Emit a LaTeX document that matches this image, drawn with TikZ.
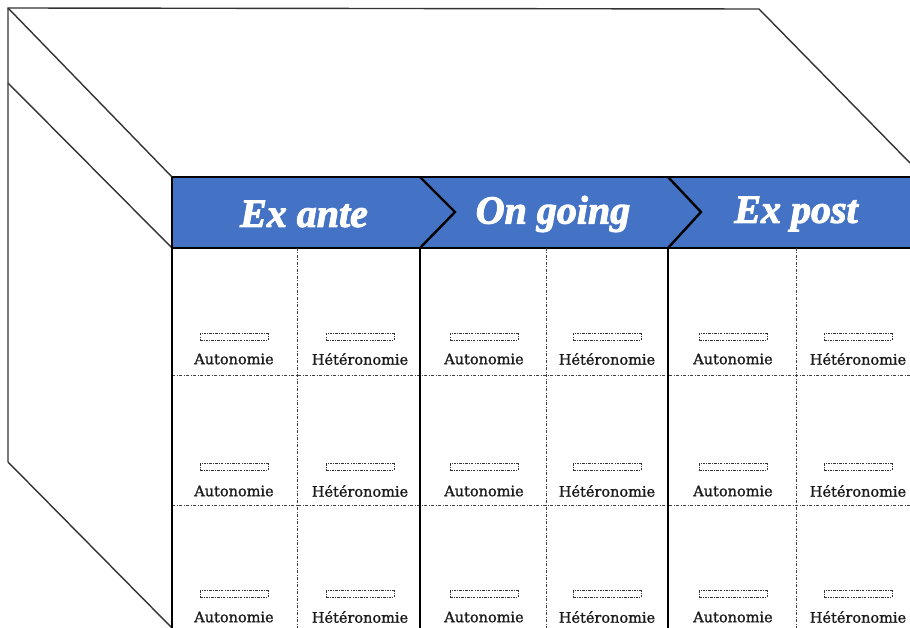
\documentclass[tikz,border=0pt]{standalone}
\usepackage{fontspec}
\newfontfamily\headfont{Liberation Serif}[FakeBold=2.5]
\newfontfamily\labelfont{DejaVu Serif}[FakeBold=1.2]
\definecolor{bandblue}{HTML}{4472C4}
\definecolor{edgegray}{HTML}{333333}
\definecolor{txtgray}{HTML}{1A1A1A}
\begin{document}
\begin{tikzpicture}[x=1pt,y=-1pt,
  edge/.style={draw=edgegray,line width=1.4pt},
  heavy/.style={draw=black,line width=2.4pt},
  grid/.style={draw=black!75,line width=0.8pt,dash pattern=on 3pt off 1.5pt on 1pt off 1.5pt},
  tag/.style={draw=black!80,line width=0.8pt,dash pattern=on 2.5pt off 1.2pt on 0.8pt off 1.2pt,
              minimum width=68pt,minimum height=7pt,inner sep=0pt},
  lbl/.style={font=\labelfont\fontsize{14.5}{16}\selectfont,text=txtgray,inner sep=0pt},
  head/.style={font=\headfont\bfseries\itshape\fontsize{40}{40}\selectfont,text=white,inner sep=0pt}]
\useasboundingbox (0,0) rectangle (910,628);

% box outline: top face and side face
\coordinate (tl) at (8,8);
\coordinate (tr) at (759,9);
\coordinate (trb) at (910,163);
\coordinate (ml) at (8,83);
\coordinate (bl) at (8,462);
\coordinate (fbl) at (172,628);
\coordinate (ftl) at (172,177);
\coordinate (fml) at (172,248);
\draw[edge] (bl) -- (tl) -- (tr) -- (trb);
\draw[edge] (tl) -- (ftl);
\draw[edge] (ml) -- (fml);
\draw[edge] (bl) -- (fbl);

% header band
\fill[bandblue] (172,177) rectangle (910,248);
\draw[heavy] (172,177) -- (910,177);
\draw[heavy] (172,248) -- (910,248);
\draw[heavy] (172,177) -- (172,248);
\draw[heavy,line join=miter] (420,177) -- (455,212) -- (420,248);
\draw[heavy,line join=miter] (668,177) -- (701,212) -- (668,248);
\node[head] (h1) at (304,214) {Ex ante};
\node[head] (h2) at (553,214) {On going};
\node[head] (h3) at (796,214) {Ex post};

% grid of cells
\draw[grid] (297,248) -- (297,628);
\draw[grid] (546,248) -- (546,628);
\draw[grid] (796,248) -- (796,628);
\draw[grid] (172,375) -- (910,375);
\draw[grid] (172,505) -- (910,505);
\draw[heavy] (172,248) -- (fbl);
\draw[heavy] (420,248) -- (420,628);
\draw[heavy] (668,248) -- (668,628);

% cell labels
\foreach \r/\by/\ly in {1/337/359, 2/467/491, 3/594/617}{
  \foreach \c/\cx/\txt in {1/234/Autonomie, 2/360/Hétéronomie, 3/484/Autonomie,
                          4/607/Hétéronomie, 5/733/Autonomie, 6/858/Hétéronomie}{
    \node[tag] (b\r\c) at (\cx,\by) {};
    \node[lbl] (t\r\c) at (\cx,\ly) {\txt};
  }
}
\end{tikzpicture}
\end{document}
